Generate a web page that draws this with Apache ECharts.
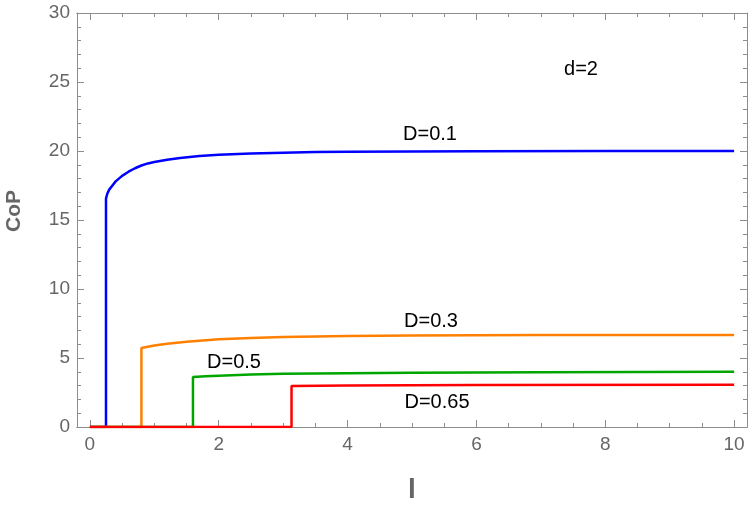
<!DOCTYPE html>
<html>
<head>
<meta charset="utf-8">
<script src="https://cdn.jsdelivr.net/npm/echarts@6/dist/echarts.min.js"></script>
<style>
  html, body { margin: 0; padding: 0; background: #fff; }
  #chart { width: 750px; height: 511px; }
</style>
</head>
<body>
<div id="chart"></div>
<script>
// values: [l, CoP]
const blueD01 = [[0, 0], [0.25, 0], [0.25, 16.55], [0.27, 16.9], [0.3, 17.2], [0.35, 17.5], [0.4, 17.8], [0.45, 18.0], [0.5, 18.2], [0.6, 18.5], [0.7, 18.75], [0.8, 18.95], [0.9, 19.1], [1.0, 19.2], [1.2, 19.37], [1.4, 19.5], [1.7, 19.63], [2.0, 19.72], [2.5, 19.82], [3, 19.88], [3.5, 19.92], [4, 19.94], [5, 19.97], [6, 19.98], [8, 20], [10, 20]];
const orangeD03 = [[0, 0], [0.8, 0], [0.8, 5.72], [0.9, 5.82], [1.0, 5.9], [1.2, 6.04], [1.5, 6.18], [2.0, 6.35], [2.5, 6.45], [3, 6.52], [4, 6.6], [5, 6.63], [7, 6.66], [10, 6.67]];
const greenD05 = [[0, 0], [1.6, 0], [1.6, 3.62], [1.8, 3.68], [2, 3.72], [2.5, 3.8], [3, 3.85], [4, 3.9], [5, 3.94], [7, 3.97], [10, 4.0]];
const redD065 = [[0, 0], [3.13, 0], [3.13, 2.97], [4, 3.0], [6, 3.04], [10, 3.07]];

const xMajor = [0, 2, 4, 6, 8, 10];
const xMinor = [0.5, 1, 1.5, 2.5, 3, 3.5, 4.5, 5, 5.5, 6.5, 7, 7.5, 8.5, 9, 9.5];

const lineColor = '#8c8c8c';
const labelColor = '#666';
const font = 'Liberation Sans, Arial, sans-serif';

const chart = echarts.init(document.getElementById('chart'));

function xAx(pos, ticks, len, labels) {
  return {
    type: 'value', position: pos, min: -0.2, max: 10.2,
    axisLine: { show: true, onZero: false, lineStyle: { color: lineColor, width: 1 } },
    axisTick: { show: true, inside: true, length: len, customValues: ticks, lineStyle: { color: lineColor } },
    axisLabel: labels ? { show: true, customValues: xMajor, color: labelColor, fontSize: 19, fontFamily: font, margin: 8 } : { show: false },
    splitLine: { show: false }
  };
}

function yAx(pos, labels) {
  return {
    type: 'value', position: pos, min: 0, max: 30, interval: 5,
    axisLine: { show: true, onZero: false, lineStyle: { color: lineColor, width: 1 } },
    axisTick: { show: true, inside: true, length: 7, lineStyle: { color: lineColor } },
    minorTick: { show: true, splitNumber: 5, length: 4, lineStyle: { color: lineColor } },
    axisLabel: labels ? { show: true, color: labelColor, fontSize: 19, fontFamily: font, margin: 7 } : { show: false },
    splitLine: { show: false }
  };
}

function curve(data, color) {
  return {
    type: 'line', data: data, xAxisIndex: 0, yAxisIndex: 0,
    showSymbol: false, symbol: 'none', animation: false,
    lineStyle: { color: color, width: 2.5 }
  };
}

function txt(x, y, s) {
  return {
    type: 'text', x: x, y: y, z: 100,
    style: { text: s, fill: '#000', font: '20px ' + font, align: 'center', verticalAlign: 'middle' }
  };
}

chart.setOption({
  animation: false,
  backgroundColor: '#fff',
  grid: { left: 77, right: 3, top: 13, bottom: 84 },
  xAxis: [
    xAx('bottom', xMajor, 7, true),
    xAx('bottom', xMinor, 4, false),
    xAx('top', xMajor, 7, false),
    xAx('top', xMinor, 4, false)
  ],
  yAxis: [yAx('left', true), yAx('right', false)],
  series: [
    curve(blueD01, '#0000ff'),
    curve(orangeD03, '#ff8000'),
    curve(greenD05, '#00a600'),
    curve(redD065, '#ff0000')
  ],
  graphic: [
    txt(581, 69, 'd=2'),
    txt(430, 134, 'D=0.1'),
    txt(431, 321, 'D=0.3'),
    txt(234, 362, 'D=0.5'),
    txt(437, 402, 'D=0.65'),
    { type: 'text', x: 14, y: 211, rotation: Math.PI / 2, style: { text: 'CoP', fill: '#666', font: 'bold 21px ' + font, align: 'center', verticalAlign: 'middle' } },
    { type: 'text', x: 412, y: 490, style: { text: 'l', fill: '#666', font: 'bold 28px ' + font, align: 'center', verticalAlign: 'middle' } }
  ]
});
</script>
</body>
</html>
